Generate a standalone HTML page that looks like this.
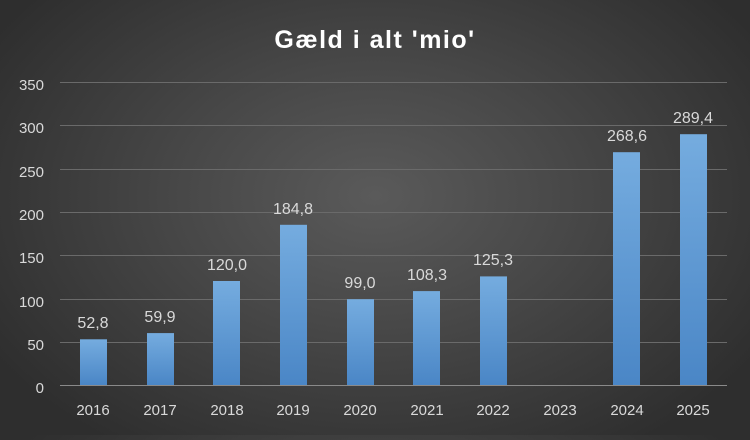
<!DOCTYPE html>
<html><head><meta charset="utf-8"><style>
html,body{margin:0;padding:0}
body{width:750px;height:435px;overflow:hidden;background:radial-gradient(ellipse 60% 70% at 50% 45%,#5a5a5a 0%,#474747 45%,#2e2e2e 100%);font-family:"Liberation Sans",sans-serif}
</style></head><body>
<svg width="750" height="435" xmlns="http://www.w3.org/2000/svg">
<defs><linearGradient id="g" x1="0" y1="0" x2="0" y2="1"><stop offset="0" stop-color="#75acdf"/><stop offset="1" stop-color="#4a86c6"/></linearGradient></defs>
<text x="375" y="48" text-anchor="middle" fill="#fff" font-size="25" font-weight="bold" letter-spacing="1.5">Gæld i alt 'mio'</text>
<g stroke="#6a6a6a" stroke-width="1">
<line x1="60" x2="727" y1="82.5" y2="82.5"/><line x1="60" x2="727" y1="125.5" y2="125.5"/><line x1="60" x2="727" y1="169.5" y2="169.5"/><line x1="60" x2="727" y1="212.5" y2="212.5"/><line x1="60" x2="727" y1="255.5" y2="255.5"/><line x1="60" x2="727" y1="299.5" y2="299.5"/><line x1="60" x2="727" y1="342.5" y2="342.5"/></g>
<line x1="60" x2="727" y1="385.5" y2="385.5" stroke="#8a8a8a"/>
<g fill="#d9d9d9" font-size="15" text-anchor="end">
<text x="44" y="90">350</text><text x="44" y="133">300</text><text x="44" y="177">250</text><text x="44" y="220">200</text><text x="44" y="263">150</text><text x="44" y="307">100</text><text x="44" y="350">50</text><text x="44" y="393">0</text></g>
<g fill="url(#g)">
<rect x="80" y="339.3" width="27" height="45.7"/>
<rect x="147" y="333.1" width="27" height="51.9"/>
<rect x="213" y="281" width="27" height="104"/>
<rect x="280" y="224.8" width="27" height="160.2"/>
<rect x="347" y="299.2" width="27" height="85.8"/>
<rect x="413" y="291.1" width="27" height="93.9"/>
<rect x="480" y="276.4" width="27" height="108.6"/>
<rect x="613" y="152.2" width="27" height="232.8"/>
<rect x="680" y="134.2" width="27" height="250.8"/>
</g>
<g fill="#d9d9d9" font-size="16" text-anchor="middle">
<text x="93" y="328">52,8</text><text x="160" y="322">59,9</text><text x="227" y="270">120,0</text><text x="293" y="214">184,8</text><text x="360" y="288">99,0</text><text x="427" y="280">108,3</text><text x="493" y="265">125,3</text><text x="627" y="141">268,6</text><text x="693" y="123">289,4</text></g>
<g fill="#d9d9d9" font-size="15" text-anchor="middle">
<text x="93" y="415">2016</text><text x="160" y="415">2017</text><text x="227" y="415">2018</text><text x="293" y="415">2019</text><text x="360" y="415">2020</text><text x="427" y="415">2021</text><text x="493" y="415">2022</text><text x="560" y="415">2023</text><text x="627" y="415">2024</text><text x="693" y="415">2025</text></g>
</svg>
</body></html>
